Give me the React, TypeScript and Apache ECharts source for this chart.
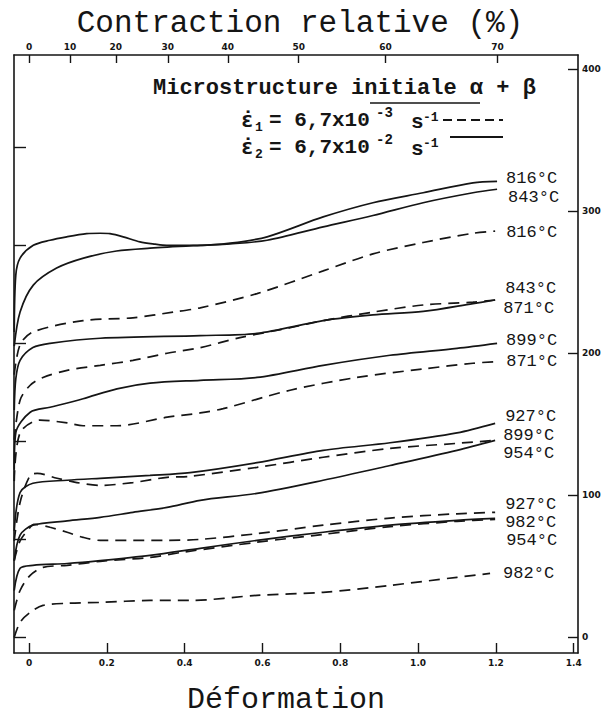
import React, { useEffect, useRef } from "react";
import * as echarts from "echarts";

// ---- axes ----
const strainTicks = [0, 0.2, 0.4, 0.6, 0.8, 1.0, 1.2, 1.4];
const contractionTicks = [0, 10, 20, 30, 40, 50, 60, 70]; // % (top axis)
const stressTicks = [0, 100, 200, 300, 400]; // MPa (right axis)
const ksiTicks = [0, 10, 20, 30, 40, 50]; // left axis (unlabelled)
const MPA_PER_KSI = 6.895;

// ---- curves [strain, stress MPa] ----
// solid = rate 2 (6,7x10^-2 s^-1), dashed = rate 1 (6,7x10^-3 s^-1)
const s816 = [[-0.038, 215], [-0.034, 255], [-0.023, 267], [0.011, 276], [0.054, 279.6], [0.097, 282], [0.148, 284.2], [0.183, 284.5], [0.208, 284.2], [0.242, 282], [0.285, 278.4], [0.324, 276.8], [0.354, 276], [0.44, 276], [0.517, 277.5], [0.612, 282], [0.756, 296], [0.884, 306], [1.013, 313], [1.141, 320], [1.203, 321]];
const s843 = [[-0.038, 205], [-0.023, 229], [0.011, 248], [0.071, 260], [0.14, 267], [0.225, 272], [0.311, 274], [0.44, 276], [0.517, 277], [0.612, 279.6], [0.756, 289], [0.884, 297], [1.013, 306], [1.141, 313], [1.203, 315.5]];
const d816 = [[-0.038, 185], [-0.023, 206], [0.01, 215], [0.139, 223], [0.267, 225], [0.37, 229], [0.44, 232], [0.586, 242], [0.756, 258], [0.884, 270], [1.013, 278], [1.141, 284.5], [1.198, 286]];
const d843 = [[-0.038, 139], [-0.023, 167], [0.003, 177.5], [0.036, 183], [0.098, 188], [0.183, 191.5], [0.267, 195], [0.355, 200], [0.44, 204], [0.542, 211], [0.671, 218], [0.756, 223], [0.884, 229], [1.013, 234], [1.141, 236], [1.198, 237.5]];
const s871 = [[-0.038, 160], [-0.034, 182], [-0.023, 195], [0.01, 204], [0.054, 207], [0.183, 210.6], [0.44, 212.5], [0.586, 214], [0.756, 223], [0.884, 227], [1.013, 229.5], [1.141, 235], [1.198, 237.5]];
const s899 = [[-0.038, 118], [-0.034, 144], [0.003, 158.5], [0.054, 162], [0.139, 168], [0.226, 175], [0.311, 179], [0.44, 181], [0.586, 183], [0.756, 191.5], [0.928, 198.6], [1.1, 203.5], [1.203, 207]];
const d871 = [[-0.038, 110], [-0.023, 144], [0.028, 153], [0.098, 151], [0.139, 149], [0.226, 149], [0.355, 155], [0.44, 158], [0.499, 161], [0.671, 174], [0.843, 183], [1.013, 189], [1.141, 193], [1.193, 194]];
const s927 = [[-0.038, 75], [-0.023, 102], [0.01, 108.5], [0.098, 110.6], [0.183, 112], [0.311, 114], [0.414, 116], [0.586, 123], [0.756, 131.7], [0.928, 137], [1.1, 144], [1.198, 150.7]];
const d899 = [[-0.038, 68], [-0.023, 95], [0.003, 114], [0.021, 115.5], [0.072, 112], [0.123, 109], [0.183, 107], [0.267, 109], [0.355, 112.7], [0.414, 113.4], [0.586, 119.7], [0.756, 126.8], [0.928, 133], [1.1, 136.6], [1.198, 138.7]];
const s954 = [[-0.038, 54], [-0.023, 72], [0.01, 79], [0.098, 82], [0.183, 84.5], [0.267, 88], [0.355, 91.5], [0.44, 96.5], [0.586, 101.4], [0.756, 110.6], [0.928, 121], [1.1, 131.7], [1.198, 138.7]];
const d927 = [[-0.038, 54], [-0.023, 68], [0.003, 77.5], [0.012, 79.6], [0.054, 77.5], [0.098, 74], [0.139, 70.4], [0.183, 68.3], [0.267, 68.3], [0.355, 68.3], [0.44, 69], [0.586, 73], [0.756, 79], [0.928, 84], [1.1, 87], [1.198, 88]];
const s982 = [[-0.038, 33], [-0.023, 48.6], [0.01, 50.7], [0.098, 52], [0.183, 54], [0.311, 57.7], [0.44, 62.7], [0.586, 68.3], [0.756, 74], [0.928, 79], [1.1, 82.4], [1.198, 83.8]];
const d954 = [[-0.038, 19], [-0.023, 33], [0.003, 43.7], [0.036, 49.3], [0.098, 50.7], [0.183, 53.5], [0.311, 56.3], [0.396, 60], [0.586, 67], [0.756, 72.5], [0.928, 78], [1.1, 81.7], [1.198, 83]];
const d982 = [[-0.038, 0], [-0.023, 10.6], [0.003, 17.6], [0.036, 22.5], [0.098, 24], [0.183, 24.6], [0.311, 26], [0.414, 26], [0.586, 29.6], [0.756, 31.7], [0.928, 36.6], [1.1, 42.3], [1.185, 45]];

// name, data, dashed, label offset [dx, dy] (layout only)
const curves: [string, number[][], boolean, [number, number]][] = [
  ["816°C", s816, false, [1, -3]],
  ["843°C", s843, false, [3, 8]],
  ["816°C", d816, true, [3, 1]],
  ["843°C", d843, true, [2, -12]],
  ["871°C", s871, false, [0, 8]],
  ["899°C", s899, false, [1, -3]],
  ["871°C", d871, true, [5, 0]],
  ["927°C", s927, false, [2, -7]],
  ["899°C", d899, true, [0, -5]],
  ["954°C", s954, false, [0, 13]],
  ["927°C", d927, true, [2, -8]],
  ["982°C", s982, false, [2, 4]],
  ["954°C", d954, true, [3, 21]],
  ["982°C", d982, true, [5, 0]],
];

const X_MIN = -0.0386;
const X_MAX = 1.411;
const Y_MIN = -11;
const Y_MAX = 410;

const INK = "#151515";
const MONO = "'Liberation Mono', 'DejaVu Sans Mono', monospace";
const TICKFONT = "'DejaVu Sans', sans-serif";

export default function App() {
  const ref = useRef<HTMLDivElement>(null);
  useEffect(() => {
    if (!ref.current) return;
    const chart = echarts.init(ref.current, undefined, { renderer: "svg" });
    const topTickPos = contractionTicks.map((p) => -Math.log(1 - p / 100));
    const tickLabel = {
      fontFamily: TICKFONT,
      fontWeight: "bold" as const,
      fontSize: 9,
      color: INK,
    };
    const txt = (text: string, x: number, y: number, size: number, bold: boolean, family = MONO, align = "left") => ({
      type: "text",
      x,
      y,
      silent: true,
      style: {
        text,
        fill: INK,
        font: `${bold ? "bold " : ""}${size}px ${family}`,
        textAlign: align,
        textVerticalAlign: "middle",
        align,
        verticalAlign: "middle",
      },
    });
    chart.setOption({
      animation: false,
      backgroundColor: "#ffffff",
      grid: { left: 14, right: 29, top: 55, bottom: 66, containLabel: false },
      xAxis: [
        {
          type: "value",
          position: "bottom",
          min: X_MIN,
          max: X_MAX,
          axisLine: { show: true, onZero: false, lineStyle: { color: INK, width: 1.6 } },
          axisTick: { show: true, inside: true, length: 10, customValues: strainTicks, lineStyle: { color: INK, width: 1.4 } },
          axisLabel: {
            show: true,
            customValues: strainTicks,
            margin: 5,
            ...tickLabel,
            formatter: (v: number) => (v === 0 ? "0" : v.toFixed(1)),
          },
          splitLine: { show: false },
        },
        {
          type: "value",
          position: "top",
          min: X_MIN,
          max: X_MAX,
          axisLine: { show: true, onZero: false, lineStyle: { color: INK, width: 1.6 } },
          axisTick: { show: true, inside: true, length: 8, customValues: topTickPos, lineStyle: { color: INK, width: 1.4 } },
          axisLabel: {
            show: true,
            customValues: topTickPos,
            margin: 4,
            ...tickLabel,
            formatter: (v: number) => String(Math.round((1 - Math.exp(-v)) * 100)),
          },
          splitLine: { show: false },
        },
      ],
      yAxis: [
        {
          type: "value",
          position: "right",
          min: Y_MIN,
          max: Y_MAX,
          axisLine: { show: true, onZero: false, lineStyle: { color: INK, width: 1.6 } },
          axisTick: { show: true, inside: true, length: 10, customValues: stressTicks, lineStyle: { color: INK, width: 1.4 } },
          axisLabel: { show: true, customValues: stressTicks, margin: 4, ...tickLabel },
          splitLine: { show: false },
        },
        {
          type: "value",
          position: "left",
          min: Y_MIN / MPA_PER_KSI,
          max: Y_MAX / MPA_PER_KSI,
          axisLine: { show: true, onZero: false, lineStyle: { color: INK, width: 1.6 } },
          axisTick: { show: true, inside: true, length: 12, customValues: ksiTicks, lineStyle: { color: INK, width: 1.4 } },
          axisLabel: { show: false },
          splitLine: { show: false },
        },
      ],
      series: curves.map(([name, data, dashed, off]) => ({
        type: "line",
        name,
        data,
        xAxisIndex: 0,
        yAxisIndex: 0,
        symbol: "none",
        smooth: 0.3,
        silent: true,
        clip: false,
        lineStyle: {
          color: INK,
          width: 1.7,
          type: dashed ? [11, 7] : "solid",
        },
        endLabel: {
          show: true,
          formatter: "{a}",
          offset: off,
          fontFamily: MONO,
          fontSize: 17,
          lineHeight: 17,
          color: INK,
        },
      })),
      graphic: [
        txt("Contraction relative (%)", 300, 23, 31, false, MONO, "center"),
        txt("Déformation", 286, 700, 30, false, MONO, "center"),
        txt("Microstructure initiale α + β", 153, 88, 22, true),
        { type: "line", silent: true, shape: { x1: 370, y1: 103, x2: 480, y2: 103 }, style: { stroke: INK, lineWidth: 1.3 } },
        // row 1 : rate 1
        txt("ε̇", 241, 120, 21, true, "'DejaVu Sans Mono', monospace"),
        txt("1", 255, 127, 13, true),
        txt("= 6,7x10", 269, 120, 21, true),
        txt("-3", 376, 113, 14, true),
        txt("s", 411, 122, 21, true),
        txt("-1", 423, 117, 13, true),
        { type: "line", silent: true, shape: { x1: 443, y1: 120, x2: 503, y2: 120 }, style: { stroke: INK, lineWidth: 1.8, lineDash: [9, 5] } },
        // row 2 : rate 2
        txt("ε̇", 241, 147, 21, true, "'DejaVu Sans Mono', monospace"),
        txt("2", 255, 154, 13, true),
        txt("= 6,7x10", 269, 147, 21, true),
        txt("-2", 376, 140, 14, true),
        txt("s", 411, 149, 21, true),
        txt("-1", 423, 143, 13, true),
        { type: "line", silent: true, shape: { x1: 450, y1: 137, x2: 503, y2: 137 }, style: { stroke: INK, lineWidth: 1.8 } },
      ],
    });
    return () => chart.dispose();
  }, []);
  return (
    <div
      ref={ref}
      style={{ position: "fixed", left: 0, top: 0, width: 607, height: 719, background: "#fff" }}
    />
  );
}
